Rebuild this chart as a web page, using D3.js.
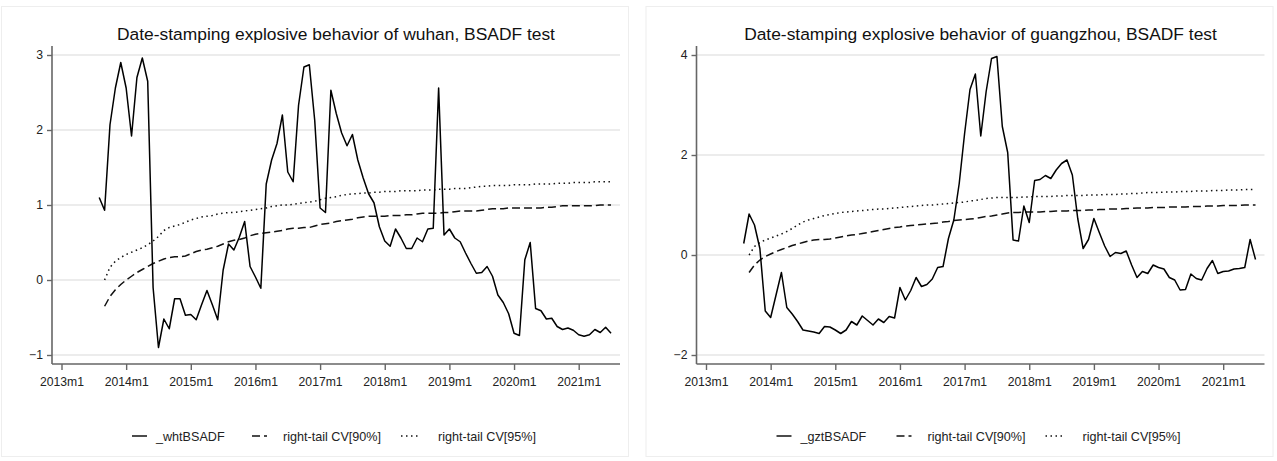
<!DOCTYPE html>
<html>
<head>
<meta charset="utf-8">
<script src="https://cdn.jsdelivr.net/npm/d3@7"></script>
<style>
  body { margin: 0; background: #fff; }
  svg { display: block; font-family: "Liberation Sans", Arial, sans-serif; }
</style>
</head>
<body>
<div id="chart"></div>
<script>
// x axis: months since 2013m1
var tickMonths = [0, 12, 24, 36, 48, 60, 72, 84, 96];
var tickLabels = ['2013m1', '2014m1', '2015m1', '2016m1', '2017m1', '2018m1', '2019m1', '2020m1', '2021m1'];
var bsadfStart = 7;   // 2013m8
var cvStart = 8;      // 2013m9

// wuhan
var whtBSADF = [1.10, 0.93, 2.07, 2.56, 2.90, 2.56, 1.92, 2.70, 2.96, 2.65,
  -0.10, -0.90, -0.52, -0.65, -0.25, -0.25, -0.47, -0.46, -0.53, -0.33,
  -0.14, -0.33, -0.53, 0.13, 0.48, 0.40, 0.57, 0.78, 0.18, 0.04,
  -0.11, 1.28, 1.60, 1.82, 2.20, 1.44, 1.31, 2.33, 2.84, 2.87,
  2.13, 0.96, 0.90, 2.53, 2.22, 1.96, 1.79, 1.94, 1.60, 1.36,
  1.15, 1.03, 0.71, 0.52, 0.45, 0.68, 0.56, 0.42, 0.42, 0.56,
  0.51, 0.68, 0.69, 2.56, 0.60, 0.68, 0.56, 0.51, 0.36, 0.22,
  0.09, 0.10, 0.18, 0.05, -0.20, -0.30, -0.45, -0.71, -0.74, 0.27,
  0.50, -0.38, -0.41, -0.52, -0.51, -0.62, -0.66, -0.64, -0.67, -0.73,
  -0.75, -0.73, -0.66, -0.70, -0.63, -0.71];
var whtCV90 = [-0.35, -0.22, -0.13, -0.06, 0.00, 0.05, 0.10, 0.14, 0.18, 0.22,
  0.25, 0.28, 0.30, 0.31, 0.31, 0.32, 0.35, 0.38, 0.40, 0.41,
  0.43, 0.45, 0.48, 0.51, 0.53, 0.54, 0.56, 0.59, 0.61, 0.62,
  0.63, 0.64, 0.65, 0.66, 0.68, 0.69, 0.69, 0.70, 0.70, 0.72,
  0.74, 0.75, 0.76, 0.78, 0.79, 0.80, 0.81, 0.83, 0.84, 0.85,
  0.85, 0.85, 0.85, 0.86, 0.86, 0.86, 0.87, 0.87, 0.88, 0.89,
  0.89, 0.89, 0.89, 0.90, 0.90, 0.91, 0.92, 0.92, 0.92, 0.92,
  0.93, 0.94, 0.95, 0.95, 0.95, 0.96, 0.96, 0.96, 0.96, 0.96,
  0.96, 0.96, 0.97, 0.97, 0.98, 0.99, 0.99, 0.99, 0.99, 0.99,
  0.99, 0.99, 1.00, 1.00, 1.00];
var whtCV95 = [0.00, 0.17, 0.25, 0.30, 0.34, 0.37, 0.40, 0.43, 0.47, 0.52,
  0.58, 0.66, 0.70, 0.72, 0.74, 0.77, 0.80, 0.82, 0.84, 0.85,
  0.86, 0.88, 0.89, 0.90, 0.90, 0.91, 0.92, 0.93, 0.94, 0.95,
  0.96, 0.98, 0.99, 1.00, 1.00, 1.01, 1.02, 1.03, 1.04, 1.05,
  1.07, 1.09, 1.10, 1.11, 1.13, 1.14, 1.15, 1.15, 1.16, 1.16,
  1.17, 1.17, 1.18, 1.18, 1.18, 1.19, 1.19, 1.19, 1.19, 1.20,
  1.20, 1.20, 1.21, 1.21, 1.21, 1.22, 1.22, 1.22, 1.23, 1.24,
  1.25, 1.25, 1.26, 1.26, 1.26, 1.26, 1.27, 1.27, 1.27, 1.27,
  1.28, 1.28, 1.28, 1.28, 1.29, 1.29, 1.29, 1.30, 1.30, 1.30,
  1.30, 1.31, 1.31, 1.31, 1.31];

// guangzhou
var gztBSADF = [0.23, 0.82, 0.60, 0.13, -1.12, -1.25, -0.80, -0.35, -1.05, -1.18,
  -1.33, -1.50, -1.52, -1.54, -1.57, -1.43, -1.44, -1.50, -1.57, -1.50,
  -1.33, -1.40, -1.22, -1.31, -1.40, -1.28, -1.35, -1.23, -1.26, -0.65,
  -0.90, -0.71, -0.45, -0.63, -0.59, -0.48, -0.25, -0.23, 0.33, 0.70,
  1.43, 2.43, 3.31, 3.62, 2.38, 3.27, 3.93, 3.97, 2.57, 2.05,
  0.30, 0.28, 0.98, 0.65, 1.49, 1.51, 1.59, 1.53, 1.70, 1.83,
  1.90, 1.60, 0.73, 0.13, 0.31, 0.73, 0.45, 0.18, -0.03, 0.05,
  0.03, 0.08, -0.20, -0.45, -0.33, -0.37, -0.20, -0.25, -0.28, -0.45,
  -0.50, -0.70, -0.69, -0.38, -0.47, -0.50, -0.27, -0.11, -0.37, -0.33,
  -0.32, -0.28, -0.27, -0.25, 0.31, -0.09];
var gztCV90 = [-0.35, -0.20, -0.10, -0.03, 0.02, 0.07, 0.11, 0.15, 0.19, 0.22,
  0.25, 0.28, 0.30, 0.31, 0.31, 0.32, 0.34, 0.36, 0.38, 0.40,
  0.41, 0.43, 0.45, 0.47, 0.49, 0.51, 0.53, 0.55, 0.56, 0.58,
  0.59, 0.60, 0.61, 0.62, 0.63, 0.64, 0.66, 0.67, 0.69, 0.70,
  0.71, 0.72, 0.73, 0.75, 0.77, 0.78, 0.80, 0.82, 0.84, 0.85,
  0.85, 0.86, 0.86, 0.86, 0.86, 0.87, 0.87, 0.88, 0.88, 0.88,
  0.89, 0.89, 0.89, 0.90, 0.90, 0.91, 0.91, 0.92, 0.92, 0.92,
  0.93, 0.93, 0.94, 0.94, 0.94, 0.95, 0.95, 0.95, 0.96, 0.96,
  0.96, 0.96, 0.97, 0.97, 0.97, 0.98, 0.98, 0.98, 0.99, 0.99,
  0.99, 0.99, 1.00, 1.00, 1.00];
var gztCV95 = [0.00, 0.17, 0.25, 0.30, 0.34, 0.38, 0.42, 0.47, 0.53, 0.60,
  0.66, 0.70, 0.73, 0.76, 0.79, 0.81, 0.83, 0.85, 0.86, 0.87,
  0.88, 0.89, 0.90, 0.91, 0.92, 0.92, 0.93, 0.94, 0.95, 0.96,
  0.97, 0.98, 0.99, 1.00, 1.00, 1.01, 1.02, 1.03, 1.04, 1.05,
  1.06, 1.08, 1.09, 1.11, 1.13, 1.14, 1.15, 1.15, 1.15, 1.15,
  1.15, 1.16, 1.16, 1.17, 1.17, 1.17, 1.17, 1.18, 1.18, 1.19,
  1.19, 1.19, 1.19, 1.20, 1.20, 1.20, 1.21, 1.21, 1.21, 1.22,
  1.22, 1.23, 1.23, 1.24, 1.25, 1.25, 1.25, 1.26, 1.26, 1.26,
  1.27, 1.27, 1.27, 1.28, 1.28, 1.28, 1.29, 1.29, 1.29, 1.30,
  1.30, 1.30, 1.31, 1.31, 1.31];

var svg = d3.select('#chart').append('svg')
    .attr('width', 1277)
    .attr('height', 461);

function drawPanel(offset, opts) {
  var plotLeft = offset + 52, plotRight = offset + 620,
      plotTop = 46, plotBottom = 364;

  var x = d3.scaleLinear()
      .domain([0, 96])
      .range([offset + 61.5, offset + 578.7]);
  var y = d3.scaleLinear()
      .domain(opts.yDomain)
      .range([355, 55]);

  var g = svg.append('g');

  // outer frame
  g.append('rect')
      .attr('x', offset + 1.5).attr('y', 6.5)
      .attr('width', 627).attr('height', 450)
      .style('fill', 'none')
      .style('stroke', '#eeeeee');

  // gridlines
  g.selectAll('.grid')
      .data(opts.yTicks)
      .enter().append('line')
      .attr('x1', plotLeft).attr('x2', plotRight)
      .attr('y1', function(d) { return y(d); })
      .attr('y2', function(d) { return y(d); })
      .style('stroke', '#e6e6e6')
      .style('stroke-width', 1.6);

  // series
  var line = d3.line()
      .x(function(d) { return x(d.m); })
      .y(function(d) { return y(d.v); });

  function toPoints(arr, start) {
    return arr.map(function(v, i) { return { m: start + i, v: v }; });
  }

  g.append('path')
      .datum(toPoints(opts.cv95, cvStart))
      .attr('d', line)
      .style('fill', 'none').style('stroke', '#111')
      .style('stroke-width', 1.5)
      .style('stroke-dasharray', '1.5,3.5');
  g.append('path')
      .datum(toPoints(opts.cv90, cvStart))
      .attr('d', line)
      .style('fill', 'none').style('stroke', '#111')
      .style('stroke-width', 1.5)
      .style('stroke-dasharray', '8,4');
  g.append('path')
      .datum(toPoints(opts.bsadf, bsadfStart))
      .attr('d', line)
      .style('fill', 'none').style('stroke', '#000')
      .style('stroke-width', 1.5)
      .style('stroke-linejoin', 'round');

  // axes
  var xAxis = g.append('g')
      .attr('transform', 'translate(0,' + plotBottom + ')')
      .call(d3.axisBottom(x).tickValues(tickMonths)
        .tickFormat(function(d, i) { return tickLabels[i]; })
        .tickSize(6).tickPadding(7));
  var yAxis = g.append('g')
      .attr('transform', 'translate(' + plotLeft + ',0)')
      .call(d3.axisLeft(y).tickValues(opts.yTicks)
        .tickFormat(d3.format('d'))
        .tickSize(5).tickPadding(4));

  [xAxis, yAxis].forEach(function(a) {
    a.select('.domain').remove();
    a.selectAll('.tick line').style('stroke', '#666').style('stroke-width', 1.4);
    a.selectAll('.tick text')
        .style('font-family', '"Liberation Sans", Arial, sans-serif')
        .style('font-size', '12.2px')
        .style('fill', '#222');
  });

  g.append('line')
      .attr('x1', plotLeft).attr('x2', plotRight)
      .attr('y1', plotBottom).attr('y2', plotBottom)
      .style('stroke', '#666').style('stroke-width', 1.6);
  g.append('line')
      .attr('x1', plotLeft).attr('x2', plotLeft)
      .attr('y1', plotTop).attr('y2', plotBottom)
      .style('stroke', '#666').style('stroke-width', 1.6);

  // title
  var cx = (plotLeft + plotRight) / 2;
  g.append('text')
      .attr('x', cx).attr('y', 40)
      .attr('text-anchor', 'middle')
      .style('font-size', '17.4px')
      .style('fill', '#111')
      .text(opts.title);

  // legend: key start, key length, text start (relative to legend start)
  var items = [
    { label: opts.name, dash: null, key: 0, len: 15, text: 24 },
    { label: 'right-tail CV[90%]', dash: '8,4', key: 120, len: 15, text: 151 },
    { label: 'right-tail CV[95%]', dash: '1.5,3.5', key: 269, len: 17, text: 306 }
  ];
  var leg = g.append('g');
  var width = 0;
  items.forEach(function(it) {
    leg.append('line')
        .attr('x1', it.key).attr('x2', it.key + it.len)
        .attr('y1', 436).attr('y2', 436)
        .style('stroke', '#111').style('stroke-width', 1.5)
        .style('stroke-dasharray', it.dash);
    var t = leg.append('text')
        .attr('x', it.text).attr('y', 440.5)
        .style('font-size', '12.6px')
        .style('fill', '#222')
        .text(it.label);
    width = it.text + t.node().getComputedTextLength();
  });
  leg.attr('transform', 'translate(' + (cx - 2 - width / 2) + ',0)');
}

drawPanel(0, {
  title: 'Date-stamping explosive behavior of wuhan, BSADF test',
  name: '_whtBSADF',
  yDomain: [-1, 3],
  yTicks: [-1, 0, 1, 2, 3],
  bsadf: whtBSADF, cv90: whtCV90, cv95: whtCV95
});

drawPanel(644.5, {
  title: 'Date-stamping explosive behavior of guangzhou, BSADF test',
  name: '_gztBSADF',
  yDomain: [-2, 4],
  yTicks: [-2, 0, 2, 4],
  bsadf: gztBSADF, cv90: gztCV90, cv95: gztCV95
});
</script>
</body>
</html>
